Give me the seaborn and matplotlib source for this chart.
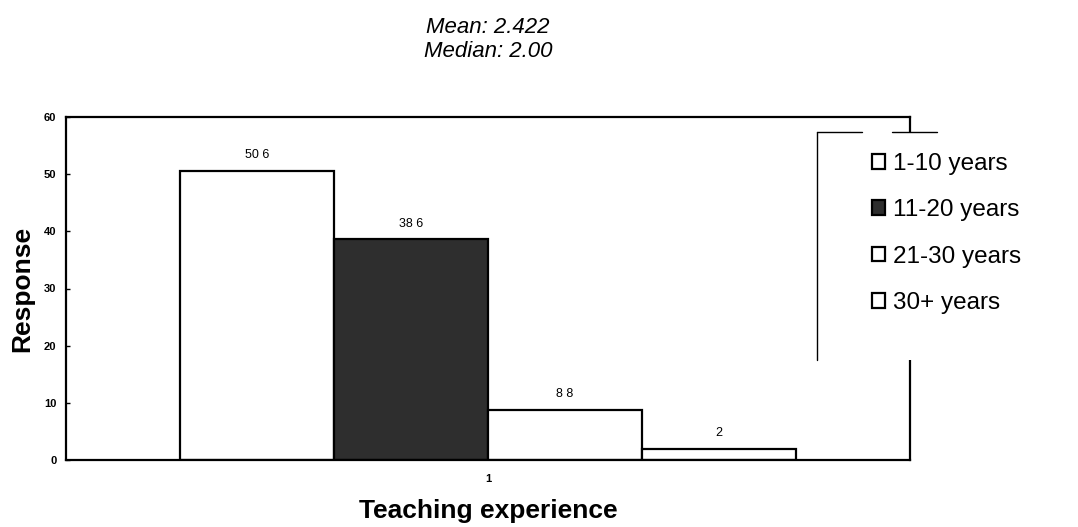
import matplotlib
matplotlib.use('Agg')
import matplotlib.pyplot as plt
import seaborn as sns
import pandas as pd
from matplotlib.lines import Line2D
from matplotlib.patches import Rectangle

# ---- data ----
group = ['1']
categories = ['1-10 years', '11-20 years', '21-30 years', '30+ years']
values = [50.6, 38.6, 8.8, 2.0]
bar_labels = ['50 6', '38 6', '8 8', '2']
yticks = [0, 10, 20, 30, 40, 50, 60]
colors = ['white', '#2e2e2e', 'white', 'white']
title_text = "Mean: 2.422\nMedian: 2.00"

sns.set_theme(style='white')
plt.rcParams['font.family'] = ['Liberation Sans', 'DejaVu Sans']
plt.rcParams.update({'text.color': 'black', 'axes.labelcolor': 'black',
                     'xtick.color': 'black', 'ytick.color': 'black'})

W, H = 1078, 527
fig = plt.figure(figsize=(W / 100, H / 100), dpi=100)
ax = fig.add_axes([66 / W, 1 - 460 / H, (910 - 66) / W, (460 - 117) / H])

df = pd.DataFrame({'group': group * len(categories),
                   'category': categories,
                   'value': values})
sns.barplot(data=df, x='group', y='value', hue='category', hue_order=categories,
            palette=colors, width=0.73, edgecolor='black', linewidth=1.6,
            saturation=1, ax=ax)

for cont, lab in zip(ax.containers, bar_labels):
    ax.bar_label(cont, labels=[lab], padding=7, fontsize=9, color='black')

ax.set_xlim(-0.5, 0.5)
ax.set_ylim(0, 60)
ax.set_yticks(yticks)
for s in ax.spines.values():
    s.set_visible(True)
    s.set_color('black')
    s.set_linewidth(1.6)

ax.tick_params(axis='y', length=3, direction='in', width=1, labelsize=8, pad=7, left=True)
ax.tick_params(axis='x', length=0, labelsize=8, pad=10)
for t in ax.get_yticklabels() + ax.get_xticklabels():
    t.set_fontweight('bold')

ax.set_ylabel('Response', fontsize=19, fontweight='bold')
ax.set_xlabel('Teaching experience', fontsize=19, fontweight='bold')
ax.xaxis.set_label_coords(0.5, -0.115)
ax.yaxis.set_label_coords(-0.038, 0.5)

# legend
handles, labels = ax.get_legend_handles_labels()
if ax.get_legend() is not None:
    ax.get_legend().remove()
fig.legend(handles, labels, loc='upper left', bbox_to_anchor=(872 / W, 1 - 153 / H),
           frameon=False, fontsize=17.5, handlelength=0.55, handleheight=0.55,
           handletextpad=0.3, labelspacing=1.0, borderpad=0, borderaxespad=0)

# partial legend frame (white box covering the right spine)
fig.patches.append(Rectangle((817 / W, 1 - 360 / H), (937 - 817) / W, (360 - 132) / H,
                             transform=fig.transFigure, facecolor='white',
                             edgecolor='none', zorder=3))
for xs, ys in [((817, 817), (132, 360)), ((817, 862), (132, 132)), ((892, 937), (132, 132))]:
    fig.lines.append(Line2D([x / W for x in xs], [1 - y / H for y in ys],
                            transform=fig.transFigure, color='black', lw=1.0, zorder=4))

fig.text(488 / W, 1 - 17 / H, title_text, ha='center', va='top', fontsize=16,
         style='italic', linespacing=1.2)

fig.savefig('out.png', dpi=100, facecolor='white')
